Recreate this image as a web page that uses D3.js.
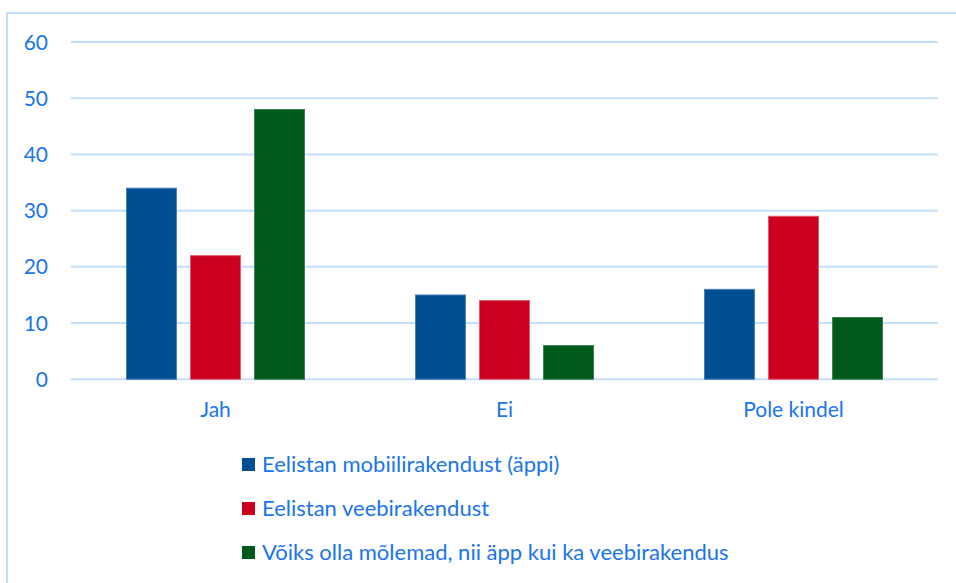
<!DOCTYPE html>
<html lang="et">
<head>
<meta charset="utf-8">
<title></title>
<script src="https://d3js.org/d3.v7.min.js"></script>
<style>
  body { margin: 0; background: #fff; }
  text { font-family: Lato, "Open Sans", sans-serif; fill: #1a74ec; }
  .grid line { stroke: #c5defa; stroke-width: 2px; }
</style>
</head>
<body>
<svg width="956" height="583"></svg>
<script>
var categories = ["Jah", "Ei", "Pole kindel"];
var seriesNames = ["Eelistan mobiilirakendust (äppi)", "Eelistan veebirakendust", "Võiks olla mõlemad, nii äpp kui ka veebirakendus"];
var mobiil = [34, 15, 16];
var veeb = [22, 14, 29];
var molemad = [48, 6, 11];
var yTicks = [0, 10, 20, 30, 40, 50, 60];
var colors = ["#004f95", "#cc001e", "#005a1c"];
var strokes = ["#4a7fb5", "#e05a6b", "#3f7f55"];

var series = [mobiil, veeb, molemad];

var svg = d3.select("svg");

// outer frame
svg.append("rect")
    .attr("x", 7).attr("y", 13)
    .attr("width", 1000).attr("height", 1000)
    .attr("fill", "none")
    .attr("stroke", "#c5defa")
    .attr("stroke-width", 2);

var plotLeft = 71, plotRight = 938, plotTop = 42, plotBottom = 379.3;

var x = d3.scaleBand().domain(categories).range([plotLeft, plotRight]);
var xInner = d3.scaleBand().domain([0, 1, 2]).range([0, 178]).paddingInner(0.22);
var y = d3.scaleLinear().domain([0, 60]).range([plotBottom, plotTop]);

// grid lines
svg.append("g").attr("class", "grid")
  .selectAll("line").data(yTicks).join("line")
    .attr("x1", plotLeft).attr("x2", plotRight)
    .attr("y1", d => y(d)).attr("y2", d => y(d));

// y labels
svg.append("g").selectAll("text").data(yTicks).join("text")
    .attr("x", 48)
    .attr("y", d => y(d))
    .attr("dy", "0.36em")
    .attr("text-anchor", "end")
    .style("font-size", "21px")
    .text(d => d);

// bars
var groups = svg.append("g").selectAll("g").data(categories).join("g")
    .attr("transform", d => `translate(${x(d) + (x.bandwidth() - 178) / 2},0)`);

groups.selectAll("rect")
    .data((c, i) => series.map((s, k) => ({k: k, v: s[i]})))
    .join("rect")
    .attr("x", d => xInner(d.k))
    .attr("width", xInner.bandwidth())
    .attr("y", d => y(d.v))
    .attr("height", d => y(0) - y(d.v))
    .attr("fill", d => colors[d.k])
    .attr("stroke", d => strokes[d.k])
    .attr("stroke-width", 1);

// category labels
svg.append("g").selectAll("text").data(categories).join("text")
    .attr("x", d => x(d) + x.bandwidth() / 2)
    .attr("y", 417)
    .attr("text-anchor", "middle")
    .style("font-size", "21px")
    .text(d => d);

// legend
var legend = svg.append("g").selectAll("g").data(seriesNames).join("g")
    .attr("transform", (d, i) => `translate(242,${465 + i * 44})`);

legend.append("rect")
    .attr("x", 0).attr("y", -7)
    .attr("width", 13).attr("height", 13)
    .attr("fill", (d, i) => colors[i]);

legend.append("text")
    .attr("x", 20)
    .attr("y", 7)
    .style("font-size", "22px")
    .text(d => d);
</script>
</body>
</html>
